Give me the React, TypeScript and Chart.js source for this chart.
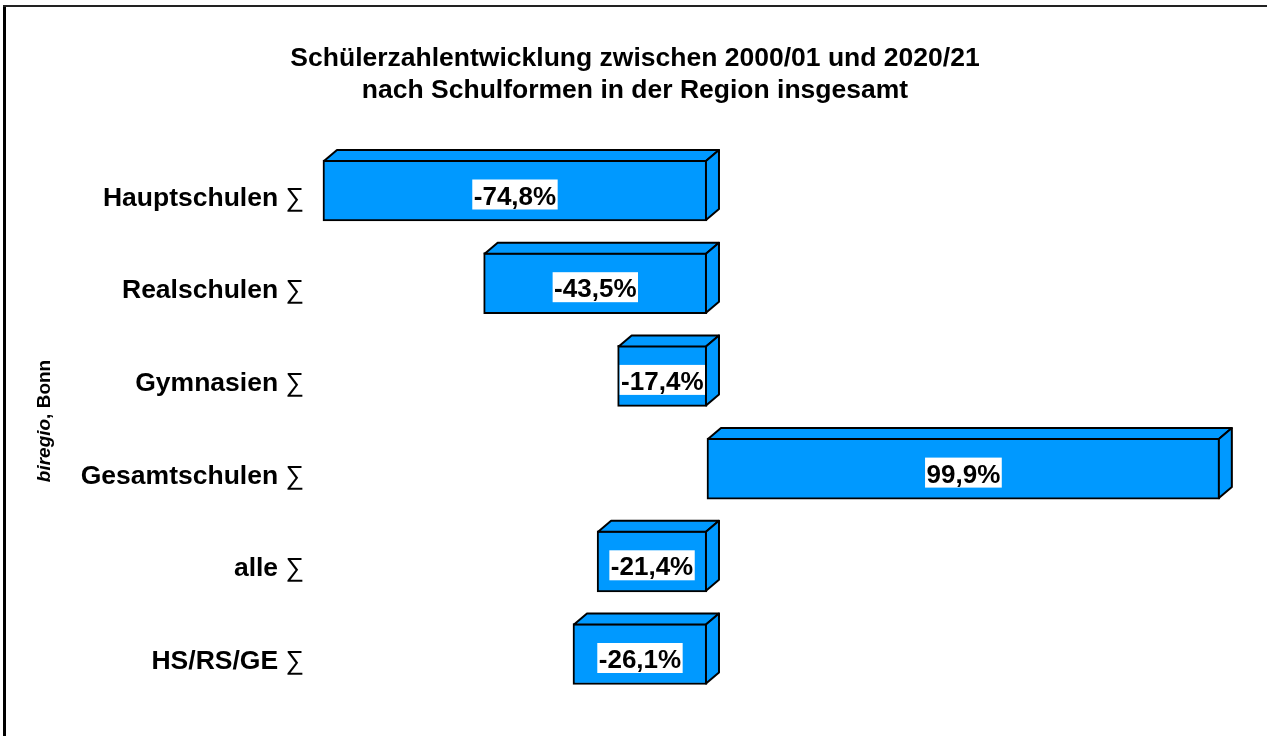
import { useEffect, useRef } from 'react';
import { Chart, registerables } from 'chart.js';

Chart.register(...registerables);

const categories = ['Hauptschulen', 'Realschulen', 'Gymnasien', 'Gesamtschulen', 'alle', 'HS/RS/GE'];
const changes = [-74.8, -43.5, -17.4, 99.9, -21.4, -26.1];
const titleLines = ['Schülerzahlentwicklung zwischen 2000/01 und 2020/21', 'nach Schulformen in der Region insgesamt'];
const sourceItalic = 'biregio';
const sourceRest = ', Bonn';
const sumSign = '∑';

const BLUE = '#0099ff';
const FONT = '"Liberation Sans", Arial, sans-serif';
const DX = 13;
const DY = 11;

const fmt = (v: number) => v.toFixed(1).replace('.', ',') + '%';

const framePlugin = {
  id: 'frame',
  beforeDraw(chart: any) {
    const ctx = chart.ctx;
    ctx.save();
    ctx.fillStyle = '#ffffff';
    ctx.fillRect(0, 0, chart.width, chart.height);
    ctx.fillStyle = '#000000';
    ctx.fillRect(3, 5, 3, chart.height);
    ctx.fillStyle = '#222222';
    ctx.fillRect(3, 5, chart.width, 2);
    ctx.restore();
  },
};

const bar3dPlugin = {
  id: 'bar3d',
  afterDatasetsDraw(chart: any) {
    const ctx = chart.ctx;
    const meta = chart.getDatasetMeta(0);
    meta.data.forEach((el: any, i: number) => {
      const p = el.getProps(['x', 'y', 'base', 'height'], true);
      const l = Math.min(p.x, p.base) + 1;
      const r = Math.max(p.x, p.base) - 1;
      const t = p.y - p.height / 2 + 1;
      const b = p.y + p.height / 2 - 1;
      ctx.save();
      ctx.lineWidth = 2;
      ctx.lineJoin = 'round';
      ctx.strokeStyle = '#000000';
      ctx.fillStyle = BLUE;
      // top face
      ctx.beginPath();
      ctx.moveTo(l, t);
      ctx.lineTo(l + DX, t - DY);
      ctx.lineTo(r + DX, t - DY);
      ctx.lineTo(r, t);
      ctx.closePath();
      ctx.fill();
      ctx.stroke();
      // side face
      ctx.beginPath();
      ctx.moveTo(r, t);
      ctx.lineTo(r + DX, t - DY);
      ctx.lineTo(r + DX, b - DY);
      ctx.lineTo(r, b);
      ctx.closePath();
      ctx.fill();
      ctx.stroke();
      // value label
      const txt = fmt(changes[i]);
      ctx.font = `bold 26px ${FONT}`;
      const w = ctx.measureText(txt).width;
      const cx = (l + r) / 2;
      const cy = p.y + 4;
      ctx.fillStyle = '#ffffff';
      ctx.fillRect(cx - w / 2 - 1.5, cy - 15, w + 3, 30);
      ctx.fillStyle = '#000000';
      ctx.textAlign = 'center';
      ctx.textBaseline = 'alphabetic';
      ctx.fillText(txt, cx, p.y + 14);
      ctx.restore();
    });
  },
};

const textPlugin = {
  id: 'texts',
  afterDraw(chart: any) {
    const ctx = chart.ctx;
    const yScale = chart.scales.y;
    ctx.save();
    ctx.fillStyle = '#000000';
    // title
    ctx.font = `bold 26.5px ${FONT}`;
    ctx.textAlign = 'center';
    ctx.textBaseline = 'alphabetic';
    ctx.fillText(titleLines[0], 635, 66);
    ctx.fillText(titleLines[1], 635, 98);
    // category labels
    categories.forEach((c, i) => {
      const y = yScale.getPixelForValue(i) + 15;
      ctx.font = `26px ${FONT}`;
      ctx.textAlign = 'right';
      const sw = ctx.measureText(sumSign).width;
      ctx.fillText(sumSign, 304, y);
      ctx.font = `bold 26.5px ${FONT}`;
      ctx.fillText(c + ' ', 304 - sw, y);
    });
    // rotated source
    ctx.translate(50, 421);
    ctx.rotate(-Math.PI / 2);
    ctx.font = `italic bold 19px ${FONT}`;
    const w1 = ctx.measureText(sourceItalic).width;
    ctx.font = `bold 19px ${FONT}`;
    const w2 = ctx.measureText(sourceRest).width;
    const start = -(w1 + w2) / 2;
    ctx.textAlign = 'left';
    ctx.font = `italic bold 19px ${FONT}`;
    ctx.fillText(sourceItalic, start, 0);
    ctx.font = `bold 19px ${FONT}`;
    ctx.fillText(sourceRest, start + w1, 0);
    ctx.restore();
  },
};

export default function App() {
  const ref = useRef<HTMLCanvasElement>(null);
  useEffect(() => {
    document.body.style.margin = '0';
    const chart = new Chart(ref.current as HTMLCanvasElement, {
      type: 'bar',
      data: {
        labels: categories,
        datasets: [
          {
            data: changes,
            backgroundColor: BLUE,
            borderColor: '#000000',
            borderWidth: 2,
            borderSkipped: false,
            barThickness: 61,
          },
        ],
      },
      options: {
        indexAxis: 'y',
        responsive: false,
        animation: false,
        layout: { padding: { left: 316.8, right: 26.1, top: 144.15, bottom: 35.65 } },
        scales: {
          x: { display: false, min: -76, max: 104, grid: { display: false } },
          y: { display: false, grid: { display: false } },
        },
        plugins: {
          legend: { display: false },
          title: { display: false },
          tooltip: { enabled: false },
        },
      },
      plugins: [framePlugin, bar3dPlugin, textPlugin],
    });
    return () => chart.destroy();
  }, []);
  return <canvas ref={ref} width={1267} height={736} style={{ display: 'block' }} />;
}
